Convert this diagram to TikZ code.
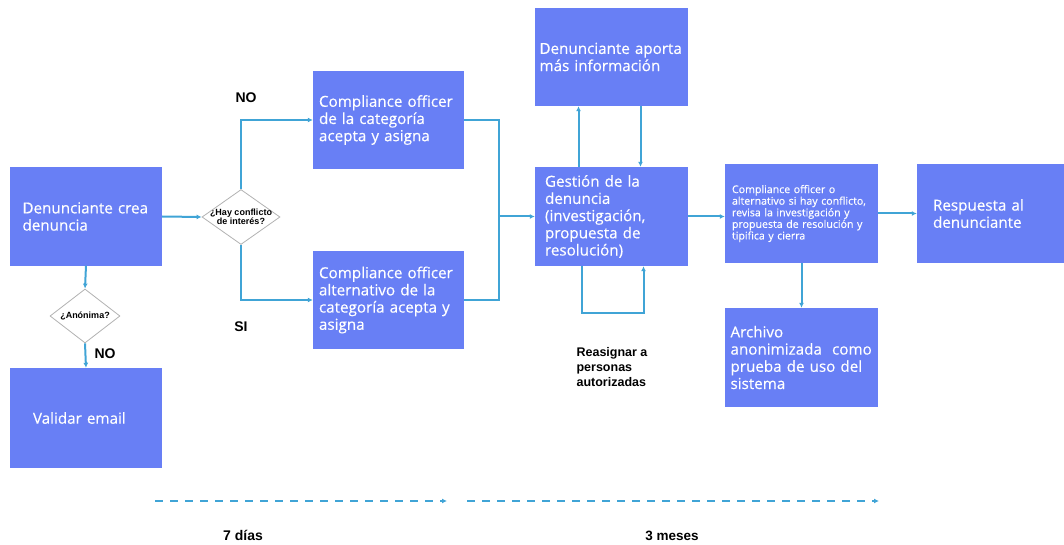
\documentclass[tikz,border=0pt]{standalone}
\usepackage{fontspec}
\setmainfont{Open Sans}[FakeBold=0.3]
\newfontfamily\lblfont{Liberation Sans}
\usetikzlibrary{shapes.geometric,arrows.meta}
\definecolor{boxblue}{RGB}{104,127,245}
\definecolor{lineblue}{RGB}{64,164,214}
\begin{document}
\begin{tikzpicture}[x=1pt,y=-1pt,
		box/.style={fill=boxblue, text=white, align=left, inner xsep=4pt,
			font=\fontsize{15.2}{17.2}\selectfont},
		dec/.style={draw=gray!60, fill=white, diamond, inner sep=0pt, line width=0.8pt},
		dectxt/.style={font=\lblfont\bfseries\fontsize{9}{9.5}\selectfont, align=center},
		flow/.style={lineblue, line width=2pt, -{Latex[length=5pt,width=5pt]}},
		link/.style={lineblue, line width=2pt},
		lbl/.style={font=\lblfont\bfseries\fontsize{14}{15}\selectfont, align=left}]
	\useasboundingbox (0,0) rectangle (1064,545);
	% boxes
	\node (den) at (86,216.5)   [box, minimum width=152, minimum height=98, text width=127] {Denunciante crea\\denuncia};
	\node (val) at (86,418)     [box, minimum width=152, minimum height=100, text width=106] {Validar email};
	\node (coa) at (388.5,120)  [box, minimum width=151, minimum height=98, text width=139] {Compliance officer\\de la categoría\\acepta y asigna};
	\node (cob) at (388.5,300)  [box, minimum width=151, minimum height=98, text width=139] {Compliance officer\\alternativo de la\\categoría acepta y\\asigna};
	\node (apo) at (611.5,57)   [box, minimum width=153, minimum height=98, text width=144] {Denunciante aporta\\más información};
	\node (ges) at (611.5,216.5) [box, minimum width=153, minimum height=99, text width=133] {Gestión de la\\denuncia\\(investigación,\\propuesta de\\resolución)};
	\node (rev) at (801.5,213.5) [box, minimum width=153, minimum height=99, text width=139,
		font=\fontsize{10.6}{11.6}\selectfont] {Compliance officer o\\alternativo si hay conflicto,\\revisa la investigación y\\propuesta de resolución y\\tipifica y cierra};
	\node (res) at (990.5,213.5) [box, minimum width=147, minimum height=99, text width=115] {Respuesta al\\denunciante};
	\node (arc) at (801.5,357.5) [box, minimum width=153, minimum height=99, text width=142] {Archivo\\anonimizada\ \ como\\prueba de uso del\\sistema};
	% decisions
	\node (hay) at (241,217)    [dec, minimum width=78, minimum height=55,
		label={[dectxt]center:¿Hay conflicto\\de interés?}] {};
	\node (ano) at (85,316)     [dec, minimum width=70, minimum height=54,
		label={[dectxt]center:¿Anónima?}] {};
	% labels
	\node (no1) at (246,98)     [lbl] {NO};
	\node (si)  at (241,327)    [lbl] {SI};
	\node (no2) at (105,354)    [lbl] {NO};
	\node (rea) at (612,367)    [lbl, font=\lblfont\bfseries\fontsize{12.5}{15}\selectfont] {Reasignar a\\personas\\autorizadas};
	\node (dia) at (243,535)    [lbl] {7 días};
	\node (mes) at (672,536)    [lbl, font=\lblfont\bfseries\fontsize{13.5}{15}\selectfont] {3 meses};
	\coordinate (mrg) at (499,216.5);
	\coordinate (t1a) at (155,501);
	\coordinate (t1b) at (447,501);
	\coordinate (t2a) at (467,501);
	\coordinate (t2b) at (879,501);
	% connectors
	\draw[flow] (den.east) -- (hay.west);
	\draw[flow] (hay.north) |- (coa.west);
	\draw[flow] (hay.south) |- (cob.west);
	\draw[link] (coa.east) -| (mrg);
	\draw[link] (cob.east) -| (mrg);
	\draw[flow] (mrg) -- (ges.west);
	\draw[flow] (den.south) -- (ano.north);
	\draw[flow] (ano.south) -- (val.north);
	\draw[flow] ([xshift=-33]ges.north) -- ([xshift=-33]apo.south);
	\draw[flow] ([xshift=29]apo.south) -- ([xshift=29]ges.north);
	\draw[flow] ([xshift=-30]ges.south) -- ++(0,47) -| ([xshift=32]ges.south);
	\draw[flow] (ges.east) -- (ges.east -| rev.west);
	\draw[flow] (rev.east) -- (res.west);
	\draw[flow] (rev.south) -- (arc.north);
	\draw[flow, line width=1.6pt, dash pattern=on 8pt off 7pt] (t1a) -- (t1b);
	\draw[flow, line width=1.6pt, dash pattern=on 8pt off 7pt] (t2a) -- (t2b);
\end{tikzpicture}
\end{document}
